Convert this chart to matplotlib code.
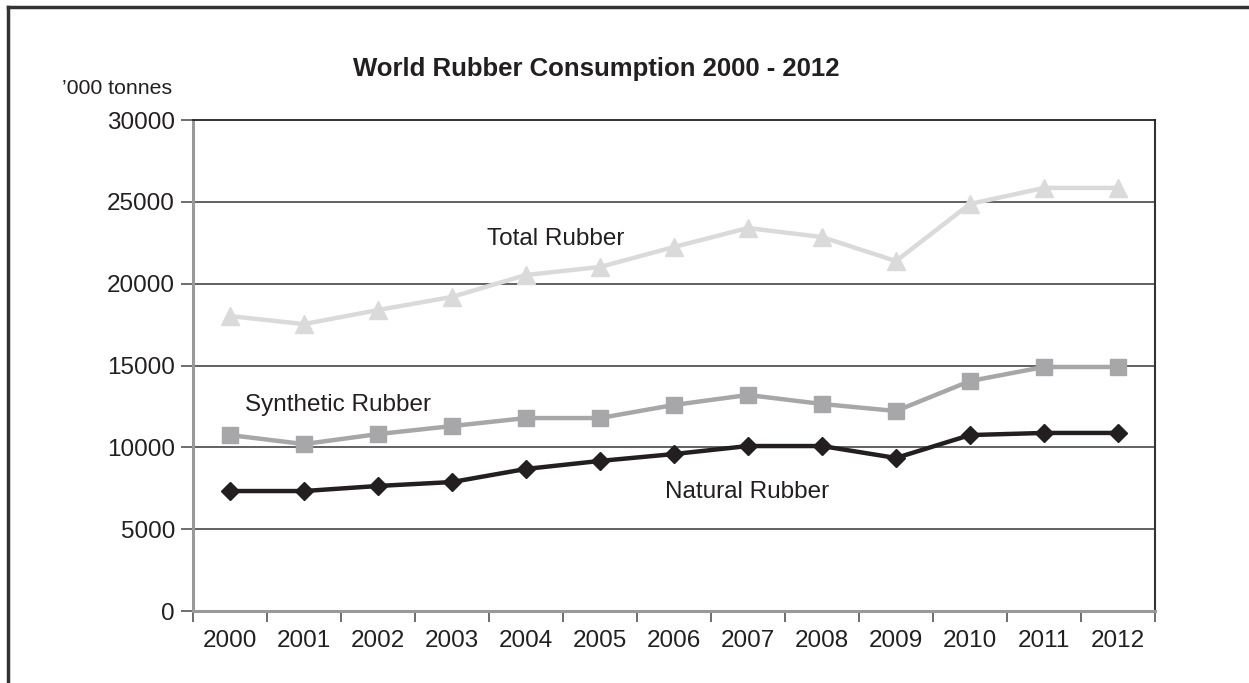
import numpy as np
import matplotlib.pyplot as plt
from matplotlib.lines import Line2D

plt.rcParams['font.family'] = ['Liberation Sans', 'DejaVu Sans']

# data ('000 tonnes)
years = ['2000', '2001', '2002', '2003', '2004', '2005', '2006',
         '2007', '2008', '2009', '2010', '2011', '2012']
total = [18020, 17530, 18390, 19190, 20530, 21020, 22240,
         23400, 22850, 21380, 24870, 25850, 25850]
synthetic = [10750, 10200, 10810, 11300, 11790, 11790, 12590,
             13200, 12650, 12220, 14050, 14910, 14910]
natural = [7330, 7330, 7640, 7880, 8680, 9170, 9590,
           10080, 10080, 9350, 10750, 10880, 10880]
yticks = [0, 5000, 10000, 15000, 20000, 25000, 30000]

fig = plt.figure(figsize=(12.49, 6.83), dpi=100)
ax = fig.add_axes([0.1545, 0.1054, 0.7702, 0.7189])

x = np.arange(len(years))
ax.plot(x, total, color='#dadadb', lw=3.2, marker='^', ms=13, zorder=3)
ax.plot(x, synthetic, color='#a7a7aa', lw=3.2, marker='s', ms=11, zorder=3)
ax.plot(x, natural, color='#231f20', lw=3.2, marker='D', ms=9, zorder=4)

ax.set_xlim(-0.5, len(years) - 0.5)
ax.set_ylim(0, 30000)

# gridlines
for v in yticks[1:-1]:
    ax.axhline(v, color='#555555', lw=1.3, zorder=1)

ax.set_yticks(yticks)
ax.set_yticklabels([str(v) for v in yticks], fontsize=17.5, color='#231f20')
ax.tick_params(axis='y', length=9, width=1.2, color='#555555', pad=4)

ax.set_xticks(np.arange(-0.5, len(years), 1.0))
ax.set_xticklabels([])
ax.set_xticks(x, minor=True)
ax.set_xticklabels(years, minor=True, fontsize=17.5, color='#231f20')
ax.tick_params(axis='x', which='major', length=8, width=1.2, color='#555555')
ax.tick_params(axis='x', which='minor', length=0, pad=14)

ax.spines['left'].set_color('#999999')
ax.spines['left'].set_linewidth(2.2)
ax.spines['bottom'].set_color('#999999')
ax.spines['bottom'].set_linewidth(2.2)
ax.spines['right'].set_color('#333333')
ax.spines['right'].set_linewidth(1.5)
ax.spines['top'].set_color('#222222')
ax.spines['top'].set_linewidth(1.3)

ax.text(3.47, 22700, 'Total Rubber', fontsize=17.5, color='#231f20', ha='left', va='center')
ax.text(0.2, 12600, 'Synthetic Rubber', fontsize=17.5, color='#231f20', ha='left', va='center')
ax.text(5.88, 7300, 'Natural Rubber', fontsize=17.5, color='#231f20', ha='left', va='center')

fig.text(0.477, 0.899, 'World Rubber Consumption 2000 - 2012', fontsize=18.5,
         fontweight='bold', ha='center', va='center', color='#231f20')
fig.text(0.138, 0.871, '\u2019000 tonnes', fontsize=15.3, ha='right', va='center', color='#231f20')

# outer frame (top and left only)
fig.add_artist(Line2D([0.0065, 1.0], [0.990, 0.990], color='#333333', lw=2.5))
fig.add_artist(Line2D([0.0065, 0.0065], [0.0, 0.990], color='#333333', lw=2.5))

fig.savefig('out.png', dpi=100)
